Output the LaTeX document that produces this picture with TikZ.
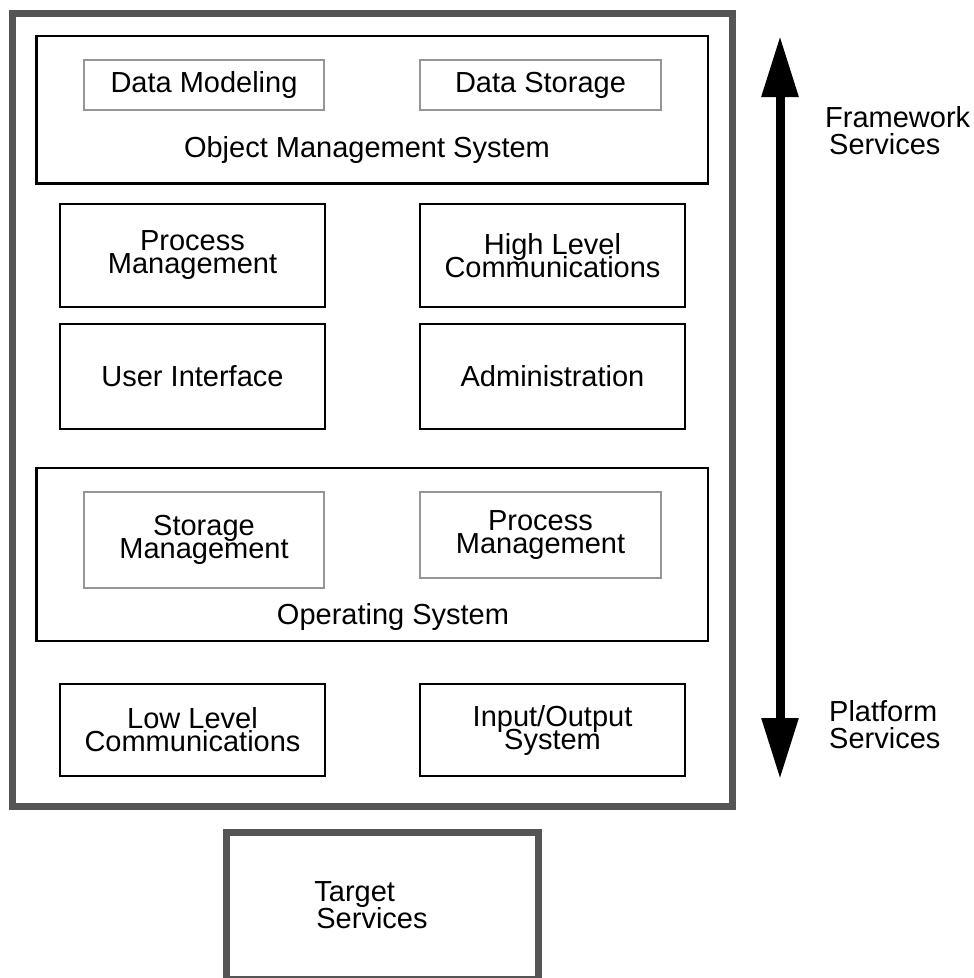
\documentclass[tikz,border=0pt]{standalone}
\usepackage{fontspec}
\setmainfont{Liberation Sans}
\usetikzlibrary{positioning, arrows.meta}
\definecolor{cFrame}{RGB}{85,85,85}
\definecolor{cSub}{RGB}{150,150,150}
\newcommand{\boxfont}{\fontsize{29}{23}\selectfont\lineskiplimit-50pt\relax}
\newcommand{\sidefont}{\fontsize{29}{27}\selectfont\lineskiplimit-50pt\relax}

\begin{document}
\begin{tikzpicture}[x=1pt, y=-1pt, node distance=360pt, on grid,
    txt/.style={font=\boxfont, align=center, inner sep=0pt},
    block/.style={txt, draw=black, line width=2.7pt, minimum width=265pt},
    subblock/.style={txt, draw=cSub, line width=1.3pt, minimum width=240pt},
    group/.style={draw=black, line width=2.7pt, minimum width=671.5pt},
    frame/.style={draw=cFrame, line width=7pt},
    side/.style={font=\sidefont, align=left, inner sep=0pt}]

    \useasboundingbox (0,0) rectangle (974,978);
    \clip (0,0) rectangle (974,978);

    % outer frame and the two groups
    \node[frame, minimum width=719.5pt, minimum height=793pt] (frame) at (372.25,409.5) {};
    \node[group, minimum height=147.5pt] (oms) at (372.25,109.75) {};
    \node[group, minimum height=173pt] (os) at (372.25,554.5) {};

    \node[subblock, minimum height=50pt] (dmod) at (204,85) {Data Modeling};
    \node[subblock, minimum height=50pt, minimum width=241pt] (dstor) [right=336.5pt of dmod] {Data Storage};
    \node[txt] (omslbl) at (367,150) {Object Management System};

    \node[block, minimum height=103pt] (pmgmt) at (192.5,255.5) {Process\\Management};
    \node[block, minimum height=103pt] (hlc) [right=of pmgmt] {High Level\\Communications};
    \node[block, minimum height=105pt] (uif) at (192.5,376.5) {User Interface};
    \node[block, minimum height=105pt] (admin) [right=of uif] {Administration};

    \node[subblock, minimum height=96pt] (smgmt) at (204,540) {Storage\\Management};
    \node[subblock, minimum height=86pt, minimum width=241pt] (ospm) at (540.5,535) {Process\\Management};
    \node[txt] (oslbl) at (393,617) {Operating System};

    \node[block, minimum height=92pt] (llc) at (192.5,730) {Low Level\\Communications};
    \node[block, minimum height=92pt] (io) [right=of llc] {Input/Output\\System};

    \node[frame, minimum width=312pt, minimum height=147pt,
          label={[side, xshift=-11pt]center:{Target\\\hspace{2pt}Services}}] (target) at (382,905.5) {};

    % services scale
    \coordinate (uptip) at (780,36);
    \coordinate (dntip) at (780,779);
    \draw[line width=9pt, {Triangle[width=35pt,length=61pt]}-{Triangle[width=35pt,length=61pt]}] (uptip) -- (dntip);
    \node[side, anchor=west] (fw) at (825,131) {Framework\\\hspace{4pt}Services};
    \node[side, anchor=west] (pf) at (829,725) {Platform\\Services};
\end{tikzpicture}
\end{document}
